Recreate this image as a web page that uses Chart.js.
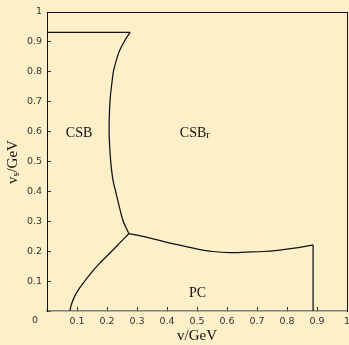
<!DOCTYPE html>
<html>
<head>
<meta charset="utf-8">
<script src="https://cdn.jsdelivr.net/npm/chart.js@4.4.0/dist/chart.umd.min.js"></script>
<style>
  html, body { margin: 0; padding: 0; background: #fdefc8; }
  #wrap { width: 349px; height: 345px; }
</style>
</head>
<body>
<div id="wrap"><canvas id="phaseChart" width="349" height="345"></canvas></div>
<script>
// phase boundaries (v, v_s in GeV)
const topEdgeV  = [0, 0.277];
const topEdgeVs = [0.932, 0.932];

const upperV  = [0.277, 0.259, 0.242, 0.231, 0.222, 0.216, 0.211, 0.208, 0.207, 0.209, 0.213, 0.220, 0.230, 0.242, 0.254, 0.273];
const upperVs = [0.932, 0.904, 0.871, 0.838, 0.804, 0.760, 0.715, 0.660, 0.604, 0.549, 0.493, 0.438, 0.395, 0.345, 0.300, 0.259];

const lowerV  = [0.273, 0.242, 0.209, 0.176, 0.142, 0.109, 0.092, 0.081, 0.076];
const lowerVs = [0.259, 0.227, 0.193, 0.160, 0.121, 0.077, 0.049, 0.021, 0.0];

const rightV  = [0.273, 0.331, 0.387, 0.442, 0.498, 0.553, 0.609, 0.665, 0.720, 0.776, 0.831, 0.887];
const rightVs = [0.259, 0.247, 0.233, 0.220, 0.208, 0.199, 0.195, 0.197, 0.199, 0.204, 0.211, 0.221];

const dropV  = [0.887, 0.887];
const dropVs = [0.221, 0.0];

// tick values
const tickValues = [0, 0.1, 0.2, 0.3, 0.4, 0.5, 0.6, 0.7, 0.8, 0.9, 1];

// region labels
const regionNames = ['CSB', 'CSB', 'PC'];
const regionSubs  = ['', 'r', ''];
const regionV     = [0.107, 0.493, 0.502];
const regionVs    = [0.595, 0.595, 0.058];

function toPoints(xs, ys) {
    return xs.map((v, i) => ({ x: v, y: ys[i] }));
}

function boundary(xs, ys, curved) {
    return {
        data: toPoints(xs, ys),
        showLine: true,
        borderColor: '#111',
        borderWidth: 1.25,
        pointRadius: 0,
        tension: curved ? 0.3 : 0,
        fill: false
    };
}

const tickFont = { family: 'DejaVu Sans', size: 9.5 };
const fmtTick = v => (v === 0 ? '' : String(Number(v.toFixed(1))));

// no extra room for overhanging tick labels
function noPad(s) {
    s.paddingLeft = 0;
    s.paddingRight = 0;
    s.paddingTop = 0;
    s.paddingBottom = 0;
}

// labels, y title and the corner "0"
const extras = {
    id: 'extras',
    afterDraw(chart) {
        const { ctx, scales: { x, y } } = chart;
        ctx.save();
        ctx.fillStyle = '#111';
        ctx.textBaseline = 'middle';
        ctx.textAlign = 'left';

        regionNames.forEach((name, i) => {
            ctx.font = '14px "Liberation Serif"';
            const w1 = ctx.measureText(name).width;
            ctx.font = '11px "Liberation Serif"';
            const w2 = regionSubs[i] ? ctx.measureText(regionSubs[i]).width : 0;
            const px = x.getPixelForValue(regionV[i]) - (w1 + w2) / 2;
            const py = y.getPixelForValue(regionVs[i]);
            ctx.font = '14px "Liberation Serif"';
            ctx.fillText(name, px, py);
            if (regionSubs[i]) {
                ctx.font = '11px "Liberation Serif"';
                ctx.fillText(regionSubs[i], px + w1, py + 2);
            }
        });

        // y axis title: v_s/GeV
        ctx.save();
        ctx.translate(13, 162);
        ctx.rotate(-Math.PI / 2);
        ctx.font = '15px "Liberation Serif"';
        const a = ctx.measureText('v').width;
        const c = ctx.measureText('/GeV').width;
        ctx.font = '10px "Liberation Serif"';
        const b = ctx.measureText('s').width;
        const sx = -(a + b + c) / 2;
        ctx.font = '15px "Liberation Serif"';
        ctx.fillText('v', sx, 0);
        ctx.font = '10px "Liberation Serif"';
        ctx.fillText('s', sx + a, 3);
        ctx.font = '15px "Liberation Serif"';
        ctx.fillText('/GeV', sx + a + b, 0);
        ctx.restore();

        // origin label
        ctx.fillStyle = '#333';
        ctx.textAlign = 'center';
        ctx.font = '9.5px "DejaVu Sans"';
        ctx.fillText('0', 35, 321);
        ctx.restore();
    }
};

const chart = new Chart(document.getElementById('phaseChart'), {
    type: 'scatter',
    data: {
        datasets: [
            boundary(topEdgeV, topEdgeVs, false),
            boundary(upperV, upperVs, true),
            boundary(lowerV, lowerVs, true),
            boundary(rightV, rightVs, true),
            boundary(dropV, dropVs, false)
        ]
    },
    options: {
        responsive: false,
        animation: false,
        layout: { padding: { top: 12, right: 2, left: 0, bottom: 0 } },
        plugins: {
            legend: { display: false },
            tooltip: { enabled: false }
        },
        scales: {
            x: {
                type: 'linear',
                position: 'bottom',
                min: 0,
                max: 1,
                afterBuildTicks: s => { s.ticks = tickValues.map(v => ({ value: v })); },
                afterFit: s => { s.height = 34; noPad(s); },
                ticks: { callback: fmtTick, font: tickFont, color: '#333', padding: 9, maxRotation: 0, autoSkip: false },
                grid: { drawOnChartArea: false, tickLength: -4, color: '#333' },
                border: { color: '#808080', width: 1.5 },
                title: {
                    display: true,
                    text: 'v/GeV',
                    color: '#111',
                    font: { family: 'Liberation Serif', size: 15 },
                    padding: { top: 0, bottom: 0 }
                }
            },
            y: {
                type: 'linear',
                position: 'left',
                min: 0,
                max: 1,
                afterBuildTicks: s => { s.ticks = tickValues.map(v => ({ value: v })); },
                afterFit: s => { s.width = 47; noPad(s); },
                ticks: { callback: fmtTick, font: tickFont, color: '#333', padding: 9, autoSkip: false },
                grid: { drawOnChartArea: false, tickLength: -4, color: '#333' },
                border: { color: '#111', width: 1 }
            },
            x2: {
                type: 'linear',
                position: 'top',
                min: 0,
                max: 1,
                afterFit: s => { s.height = 0; noPad(s); },
                ticks: { display: false },
                grid: { drawOnChartArea: false, drawTicks: false },
                border: { color: '#111', width: 1 }
            },
            y2: {
                type: 'linear',
                position: 'right',
                min: 0,
                max: 1,
                afterFit: s => { s.width = 0; noPad(s); },
                ticks: { display: false },
                grid: { drawOnChartArea: false, drawTicks: false },
                border: { color: '#111', width: 1 }
            }
        }
    },
    plugins: [extras]
});
</script>
</body>
</html>
